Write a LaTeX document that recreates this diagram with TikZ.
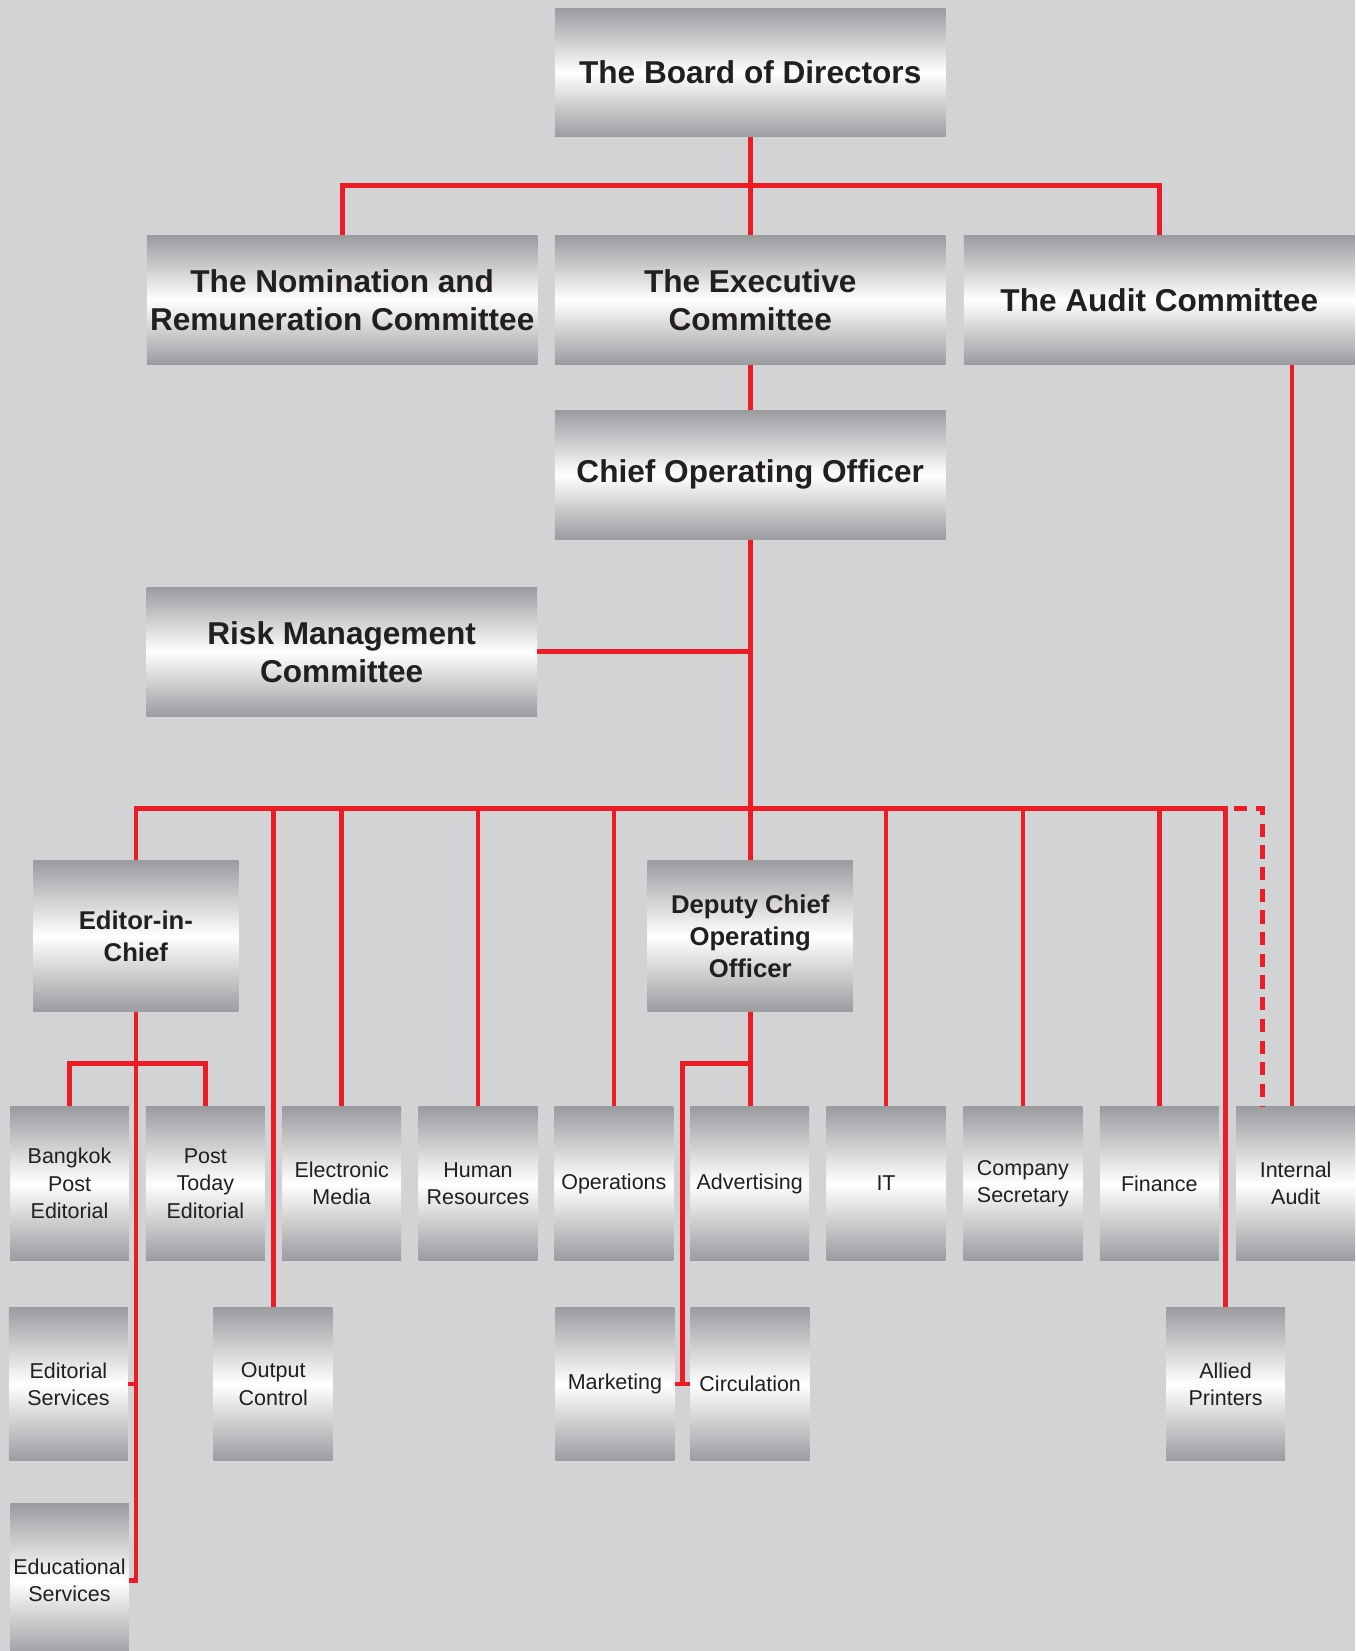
\documentclass[tikz,border=0pt]{standalone}
\usepackage{fontspec}
\setmainfont{Liberation Sans}
\usetikzlibrary{calc}

\definecolor{pagegray}{RGB}{210,211,213}
\definecolor{boxgray}{RGB}{155,156,160}
\definecolor{linkred}{RGB}{237,28,36}
\definecolor{inkgray}{RGB}{35,31,32}

\tikzset{
  box/.style={rectangle, inner sep=0pt, align=center, text=inkgray,
    top color=boxgray, bottom color=boxgray, middle color=white},
  bigbox/.style={box, minimum width=185.5pt, minimum height=61pt,
    font=\bfseries\fontsize{15}{18}\selectfont},
  midbox/.style={box, minimum width=97.5pt, minimum height=72pt,
    font=\bfseries\fontsize{12.2}{15.2}\selectfont},
  unitbox/.style={box, minimum width=56.5pt, minimum height=73pt,
    font=\fontsize{10.2}{13}\selectfont},
  link/.style={draw=linkred, line width=2.2pt},
  dashlink/.style={link, dash pattern=on 6.3pt off 4pt}
}

\begin{document}
\begin{tikzpicture}[x=0.5pt, y=-0.5pt]
  \useasboundingbox (0,0) rectangle (1287,1568);
  \fill[pagegray] (0,0) rectangle (1287,1568);

  % board and committees
  \node[bigbox] (board) at (712.5,69) {The Board of Directors};
  \node[bigbox] (nomination) at (325,285) {The Nomination and\\Remuneration Committee};
  \node[bigbox] (executive) at (712.5,285) {The Executive\\Committee};
  \node[bigbox] (audit) at (1101,285) {The Audit Committee};
  \node[bigbox] (coo) at (712.5,451) {Chief Operating Officer};
  \node[bigbox] (risk) at (324.5,619) {Risk Management\\Committee};

  \node[midbox] (editor) at (129,889) {Editor-in-\\Chief};
  \node[midbox] (deputy) at (712.5,889) {Deputy Chief\\Operating\\Officer};

  % departments, first row
  \node[unitbox] (bangkok) at (66,1124) {Bangkok\\Post\\Editorial};
  \node[unitbox] (posttoday) at (195,1124) {Post\\Today\\Editorial};
  \node[unitbox] (electronic) at (324.5,1124) {Electronic\\Media};
  \node[unitbox] (hr) at (454,1124) {Human\\Resources};
  \node[unitbox] (operations) at (583,1124) {Operations};
  \node[unitbox] (advertising) at (712,1124) {Advertising};
  \node[unitbox] (it) at (841.5,1124) {IT};
  \node[unitbox] (secretary) at (971.5,1124) {Company\\Secretary};
  \node[unitbox] (finance) at (1101,1124) {Finance};
  \node[unitbox] (internal) at (1230.5,1124) {Internal\\Audit};

  % departments, second and third row
  \node[unitbox] (edservices) at (65,1314.5) {Editorial\\Services};
  \node[unitbox] (output) at (259.5,1314.5) {Output\\Control};
  \node[unitbox] (marketing) at (584,1314.5) {Marketing};
  \node[unitbox] (circulation) at (712.5,1314.5) {Circulation};
  \node[unitbox] (allied) at (1164,1314.5) {Allied\\Printers};
  \node[unitbox] (educational) at (66,1501) {Educational\\Services};

  % board lines
  \coordinate (boardfork) at (712.5,176);
  \draw[link] (board.south) -- (executive.north);
  \draw[link] (nomination.north) |- (boardfork) -| (audit.north);
  \draw[link] (executive.south) -- (coo.north);

  % main bus
  \coordinate (bus) at (712.5,768);
  \draw[link] (coo.south) -- (deputy.north);
  \draw[link] (risk.east) -- (risk.east -| coo.south);
  \draw[link] (editor.north) |- (bus) -| (allied.north);
  \draw[link] (output.north) -- (output.north |- bus);
  \draw[link] (electronic.north) -- (electronic.north |- bus);
  \draw[link] (hr.north) -- (hr.north |- bus);
  \draw[link] (operations.north) -- (operations.north |- bus);
  \draw[link] (it.north) -- (it.north |- bus);
  \draw[link] (secretary.north) -- (secretary.north |- bus);
  \draw[link] (finance.north) -- (finance.north |- bus);

  % internal audit
  \coordinate (dashcorner) at (1199,768);
  \coordinate (auditdrop) at ($(internal.north)+(-3.5,0)$);
  \draw[dashlink] ($(bus -| allied.north)+(8,0)$) -- (dashcorner) -- (dashcorner |- internal.north);
  \draw[link] (audit.south -| auditdrop) -- (auditdrop);

  % editorial side
  \coordinate (editorfork) at (129,1010);
  \draw[link] (bangkok.north) |- (editorfork) -| (posttoday.north);
  \draw[link] (editor.south) |- (educational.east);
  \draw[link] (edservices.east) -- (edservices.east -| editor.south);

  % deputy side
  \coordinate (deputyfork) at (712.5,1010);
  \coordinate (salesgap) at ($(marketing.east)!0.5!(circulation.west)$);
  \draw[link] (deputy.south) -- (deputy.south |- advertising.north);
  \draw[link] (deputyfork) -| (salesgap);
  \draw[link] (marketing.east) -- (circulation.west);
\end{tikzpicture}
\end{document}
